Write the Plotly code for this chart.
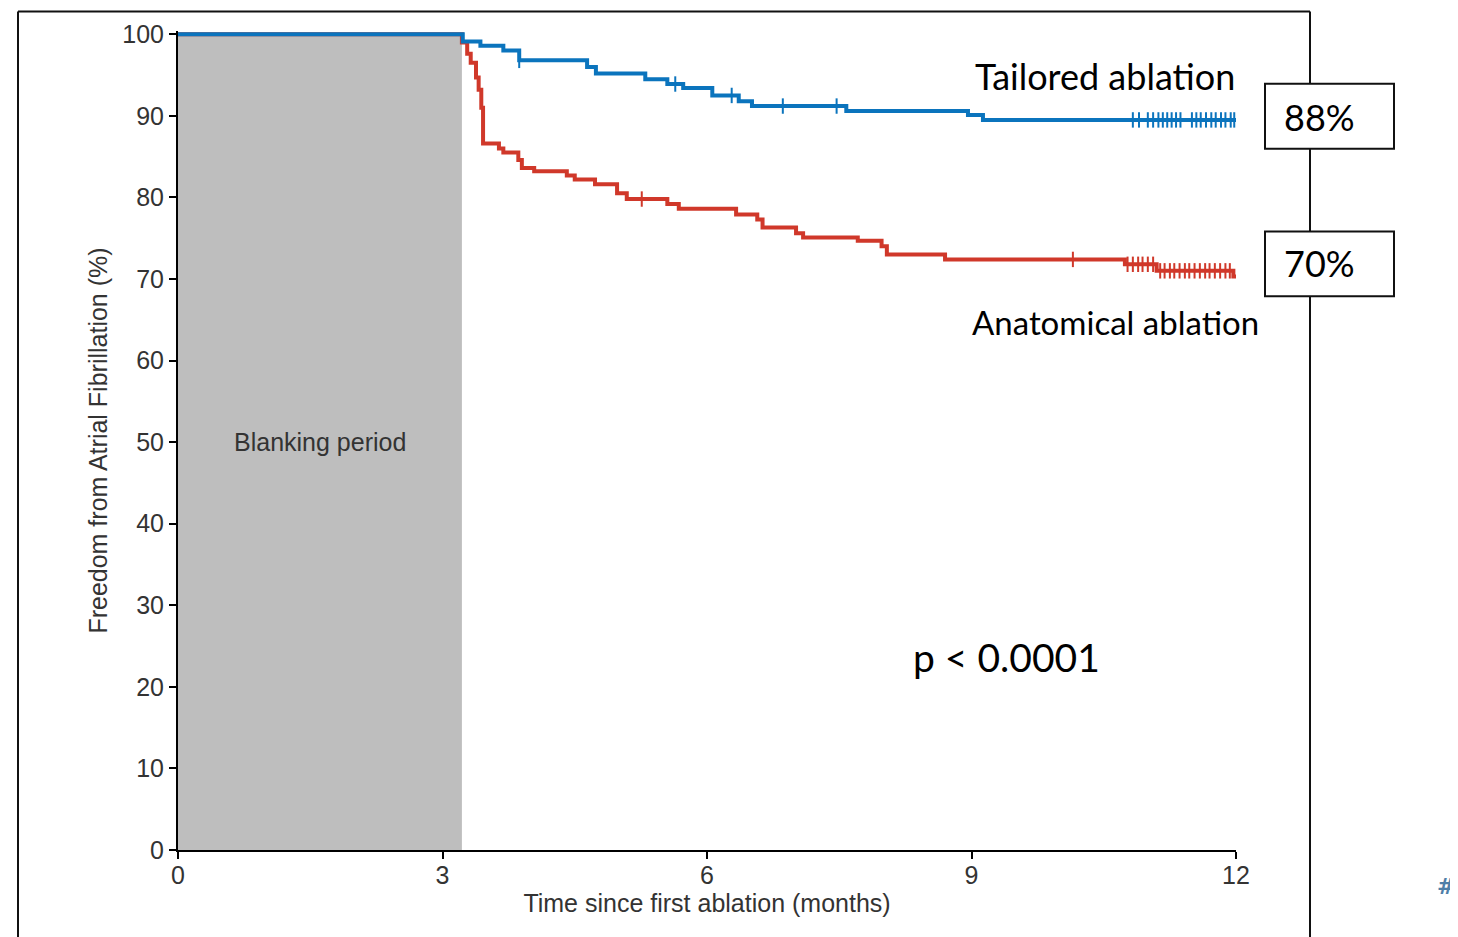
import numpy as np
import plotly.graph_objects as go

# Kaplan-Meier steps (months, % free from AF)
tailored_t = [0, 3.23, 3.43, 3.69, 3.87, 4.64, 4.74, 5.30, 5.55, 5.73, 6.06, 6.36, 6.51, 7.58, 8.96, 9.13, 12.0]
tailored_s = [100, 99.1, 98.6, 98.0, 96.8, 96.0, 95.2, 94.5, 93.9, 93.4, 92.5, 91.8, 91.2, 90.6, 90.1, 89.5, 89.5]
tailored_cens = [3.87, 5.64, 6.28, 6.86, 7.47, 10.83, 10.90, 11.00, 11.06, 11.12, 11.17, 11.22, 11.27, 11.32,
                 11.37, 11.50, 11.55, 11.60, 11.66, 11.72, 11.77, 11.83, 11.88, 11.94, 11.98]

anatomical_t = [0, 3.22, 3.28, 3.32, 3.38, 3.41, 3.44, 3.46, 3.64, 3.69, 3.86, 3.90, 4.04, 4.41, 4.50, 4.73,
                4.98, 5.09, 5.55, 5.68, 6.33, 6.57, 6.63, 7.01, 7.09, 7.71, 7.98, 8.04, 8.70, 10.74, 11.10,
                11.97, 12.0]
anatomical_s = [100, 99.0, 97.6, 96.5, 94.7, 93.2, 91.0, 86.6, 86.0, 85.5, 84.6, 83.6, 83.2, 82.7, 82.2, 81.6,
                80.5, 79.8, 79.2, 78.6, 77.9, 77.3, 76.3, 75.6, 75.1, 74.7, 74.0, 73.0, 72.4, 71.8, 71.0,
                70.3, 70.3]
anatomical_cens = [5.26, 10.15, 10.77, 10.83, 10.89, 10.94, 11.00, 11.06, 11.14, 11.19, 11.25, 11.30, 11.36,
                   11.42, 11.47, 11.53, 11.59, 11.65, 11.70, 11.76, 11.82, 11.88, 11.93]

blanking_end = 3.22
x_ticks = [0, 3, 6, 9, 12]
y_ticks = list(range(0, 101, 10))

BLUE = '#0b74bd'
RED = '#d0382a'

# page offset (body margin) and plot area in page pixels
OFF = 8
W, H = 1450, 929
L, R, T, B = 178, 1236, 29, 850


def px(x):
    return (x - L) / (R - L)


def py(y):
    return (B - y) / (B - T)


def step_value(times, surv, t):
    i = np.searchsorted(np.array(times), t, side='right') - 1
    return surv[max(i, 0)]


fig = go.Figure()
for name, t, s, cens, col in [('Anatomical ablation', anatomical_t, anatomical_s, anatomical_cens, RED),
                              ('Tailored ablation', tailored_t, tailored_s, tailored_cens, BLUE)]:
    fig.add_trace(go.Scatter(x=t, y=s, mode='lines', line=dict(color=col, width=4, shape='hv'),
                             name=name, showlegend=False, hoverinfo='skip'))
    fig.add_trace(go.Scatter(x=cens, y=[step_value(t, s, c) for c in cens], mode='markers',
                             marker=dict(symbol='line-ns', size=11, line=dict(color=col, width=2)),
                             showlegend=False, cliponaxis=False, hoverinfo='skip'))

top = OFF + 1.5
shapes = [
    dict(type='rect', xref='x', yref='y', x0=0, x1=blanking_end, y0=0, y1=100, fillcolor='#bebebe',
         line=dict(width=0), layer='below'),
    # outer frame of the slide
    dict(type='line', xref='paper', yref='paper', x0=px(18), x1=px(18), y0=py(top), y1=py(945),
         line=dict(color='#111', width=2)),
    dict(type='line', xref='paper', yref='paper', x0=px(18), x1=px(1310), y0=py(top), y1=py(top),
         line=dict(color='#111', width=2)),
    dict(type='line', xref='paper', yref='paper', x0=px(1310), x1=px(1310), y0=py(top), y1=py(945),
         line=dict(color='#111', width=2)),
]
for y0, y1 in [(82, 147), (230, 295)]:
    shapes.append(dict(type='rect', xref='paper', yref='paper', x0=px(1265), x1=px(1394), y0=py(y1), y1=py(y0),
                       fillcolor='white', line=dict(color='#111', width=2)))

cal = 'Lato, Carlito, Open Sans, sans-serif'


def note(x, y, text, size, anchor='left', color='black', family=cal):
    return dict(x=px(x), y=py(y), xref='paper', yref='paper', text=text, showarrow=False,
                xanchor=anchor, yanchor='middle', font=dict(size=size, color=color, family=family))


annotations = [
    dict(x=blanking_end / 2, y=50, xref='x', yref='y', text='Blanking period', showarrow=False,
         xanchor='center', yanchor='middle', font=dict(size=25, color='#333', family='Arial, Liberation Sans')),
    note(1237, 74, 'Tailored ablation', 36, 'right'),
    note(1261, 321, 'Anatomical ablation', 33, 'right'),
    note(911, 657, 'p &lt; 0.0001', 39),
    note(1282, 115, '88%', 36),
    note(1282, 262, '70%', 36),
    note(1457, 887, '<b>#</b>', 22, 'right', '#4f7fa8', 'DejaVu Sans'),
]

axis_font = dict(size=25, color='#333', family='Arial, Liberation Sans')
fig.update_layout(
    width=W, height=H,
    margin=dict(l=L - OFF, r=W - (R - OFF), t=T - OFF, b=H - (B - OFF)),
    paper_bgcolor='white', plot_bgcolor='white',
    shapes=shapes, annotations=annotations,
    xaxis=dict(range=[0, 12], tickvals=x_ticks, showline=True, linecolor='black', linewidth=2,
               ticks='outside', ticklen=7, tickwidth=2, tickcolor='black', showgrid=False, zeroline=False,
               ticklabelstandoff=-5,
               tickfont=axis_font, title=dict(text='Time since first ablation (months)', font=axis_font,
                                              standoff=4)),
    yaxis=dict(range=[0, 100.4], tickvals=y_ticks, showline=True, linecolor='black', linewidth=2,
               ticks='outside', ticklen=7, tickwidth=2, tickcolor='black', showgrid=False, zeroline=False,
               tickfont=axis_font, title=dict(text='Freedom from Atrial Fibrillation (%)', font=axis_font,
                                              standoff=8)),
)

fig.write_html('out.html')
